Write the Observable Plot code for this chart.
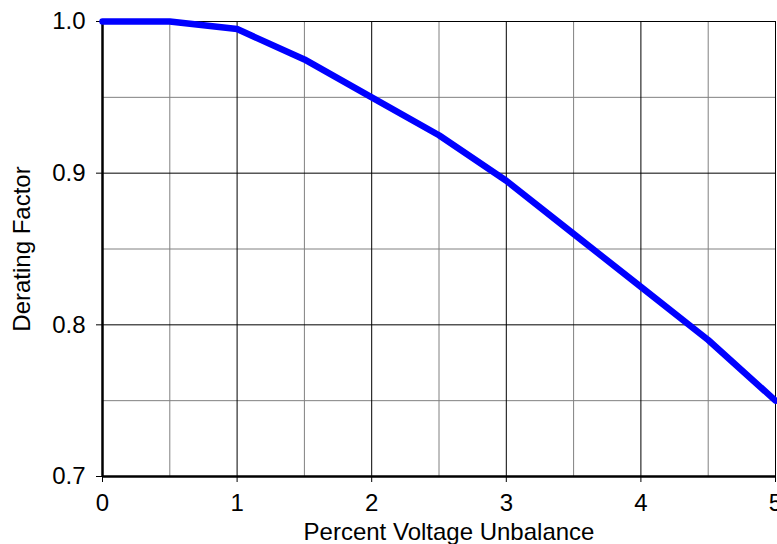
<!DOCTYPE html>
<html>
<head>
<meta charset="utf-8">
<script src="https://cdn.jsdelivr.net/npm/d3@7"></script>
<script src="https://cdn.jsdelivr.net/npm/@observablehq/plot@0.6"></script>
<style>
  html, body { margin: 0; padding: 0; background: #fff; }
  #chart svg { display: block; }
</style>
</head>
<body>
<div id="chart"></div>
<script>
const unbalance = [0, 0.5, 1, 1.5, 2, 2.5, 3, 3.5, 4, 4.5, 5];
const derating  = [1.0, 1.0, 0.995, 0.975, 0.95, 0.925, 0.895, 0.86, 0.825, 0.79, 0.75];
const xTicks = [0, 1, 2, 3, 4, 5];
const xMinor = [0.5, 1.5, 2.5, 3.5, 4.5];
const yTicks = [0.7, 0.8, 0.9, 1.0];
const yMinor = [0.75, 0.85, 0.95];

const data = unbalance.map((x, i) => ({x, y: derating[i]}));
const font = "Liberation Sans, Arial, sans-serif";

const chart = Plot.plot({
  width: 777,
  height: 544,
  marginLeft: 102,
  marginRight: 2,
  marginTop: 21,
  marginBottom: 68,
  style: {fontFamily: font, fontSize: "24px", color: "#000", background: "#fff"},
  x: {domain: [0, 5]},
  y: {domain: [0.7, 1.0]},
  marks: [
    Plot.ruleX(xMinor, {stroke: "#808080", strokeWidth: 1}),
    Plot.ruleY(yMinor, {stroke: "#808080", strokeWidth: 1}),
    Plot.ruleX(xTicks, {stroke: "#000", strokeWidth: 1}),
    Plot.ruleY(yTicks, {stroke: "#000", strokeWidth: 1}),
    Plot.axisX({ticks: xTicks, tickSize: 6, tickPadding: 11, tickFormat: d3.format("d"),
      fontSize: 24, label: null, stroke: "#000"}),
    Plot.axisY({ticks: yTicks, tickSize: 6, tickPadding: 11, tickFormat: d3.format(".1f"),
      fontSize: 24, label: null, stroke: "#000"}),
    Plot.ruleX([0], {stroke: "#000", strokeWidth: 2.5}),
    Plot.ruleY([0.7], {stroke: "#000", strokeWidth: 2.5}),
    Plot.line(data, {x: "x", y: "y", stroke: "#0000ff", strokeWidth: 6.5, strokeLinejoin: "miter"}),
    Plot.text(["Percent Voltage Unbalance"], {frameAnchor: "bottom", dx: 10, dy: 55.5,
      fontSize: 24, fill: "#000", lineAnchor: "middle"}),
    Plot.text(["Derating Factor"], {frameAnchor: "left", textAnchor: "middle", dx: -80, rotate: -90,
      fontSize: 24, fill: "#000", lineAnchor: "middle"})
  ]
});
document.getElementById("chart").appendChild(chart);
</script>
</body>
</html>
